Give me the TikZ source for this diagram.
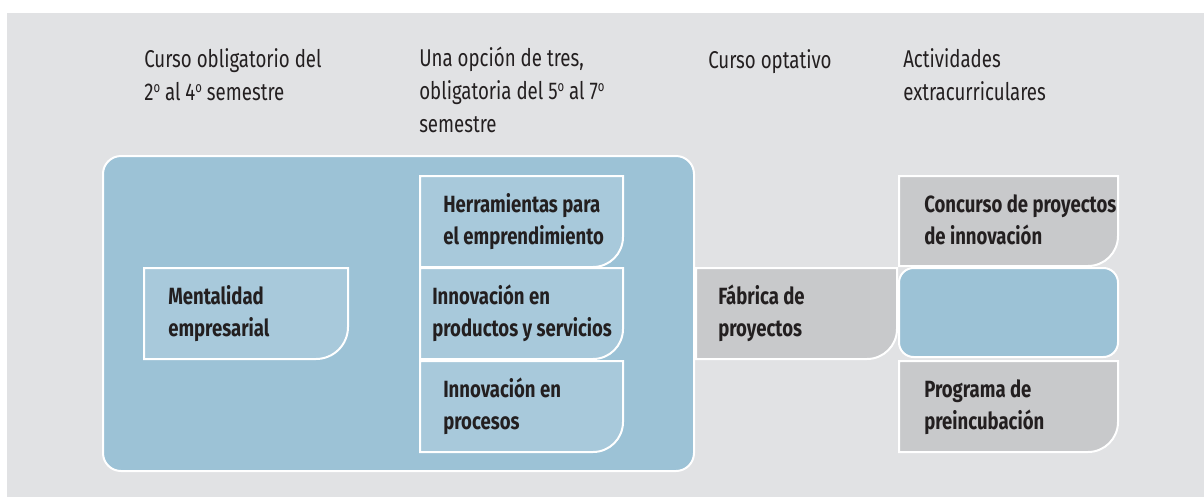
\documentclass[tikz,border=0pt]{standalone}
\usepackage{fontspec}
\setmainfont{Fira Sans}[FakeStretch=0.77,BoldFeatures={FakeStretch=0.79}]
\definecolor{pagebg}{HTML}{E1E2E4}
\definecolor{bigblue}{HTML}{9CC2D6}
\definecolor{lightblue}{HTML}{A8C9DB}
\definecolor{boxgray}{HTML}{C8C9CB}
\definecolor{ink}{HTML}{231F20}
\newcommand{\ordo}{\raisebox{0.62ex}{\fontsize{11}{11}\selectfont o}}
\newcommand{\cornerbox}[6]{%
  \draw[#1] (#2,#3) -- (#4,#3) -- (#4,#5-#6) arc[start angle=0,end angle=90,radius=#6] -- (#2,#5) -- cycle;}
\tikzset{
  frame/.style={draw=white,line width=1.5pt},
  bluebox/.style={frame,fill=lightblue},
  graybox/.style={frame,fill=boxgray},
  head/.style={anchor=base west,inner sep=0pt,align=left,text=ink,
    font=\fontsize{18.2}{24.4}\selectfont},
  label/.style={anchor=base west,inner sep=0pt,align=left,text=ink,
    font=\fontsize{17.6}{23.3}\selectfont\bfseries},
}
\begin{document}
\begin{tikzpicture}[x=0.75pt,y=-0.75pt]
\useasboundingbox (0,0) rectangle (1204,497);
\fill[white] (0,0) rectangle (1204,497);
\fill[pagebg] (7,13) rectangle (1204,497);
% big container
\draw[frame,fill=bigblue,rounded corners=13.5pt] (103,156) rectangle (694,471);
% boxes
\cornerbox{bluebox}{144}{268}{348}{359}{32}
\cornerbox{bluebox}{420}{176}{623}{267}{30}
\cornerbox{bluebox}{420}{268}{623}{359}{30}
\cornerbox{bluebox}{420}{361}{623}{452}{30}
\cornerbox{graybox}{696}{268}{897}{359}{30}
\cornerbox{graybox}{899}{176}{1118}{266}{30}
\draw[frame,fill=bigblue,rounded corners=11pt] (899,268) rectangle (1118,357);
\cornerbox{graybox}{899}{361}{1118}{452}{30}
% headers (anchor = baseline of last line)
\node[head] (h1) at (144,100) {Curso obligatorio del\\2\ordo{} al 4\ordo{} semestre};
\node[head] (h2) at (419,132) {Una opción de tres,\\obligatoria del 5\ordo{} al 7\ordo\\semestre};
\node[head] (h3) at (708,68) {Curso optativo};
\node[head] (h4) at (903,100) {Actividades\\extracurriculares};
% labels
\node[label] (t1) at (168,336) {Mentalidad\\empresarial};
\node[label] (t2) at (443,244) {Herramientas para\\el emprendimiento};
\node[label] (t3) at (432,336) {Innovación en\\productos y servicios};
\node[label] (t4) at (443,429) {Innovación en\\procesos};
\node[label] (t5) at (718,336) {Fábrica de\\proyectos};
\node[label] (t6) at (924,244) {Concurso de proyectos\\de innovación};
\node[label] (t7) at (924,429) {Programa de\\preincubación};
\end{tikzpicture}
\end{document}
